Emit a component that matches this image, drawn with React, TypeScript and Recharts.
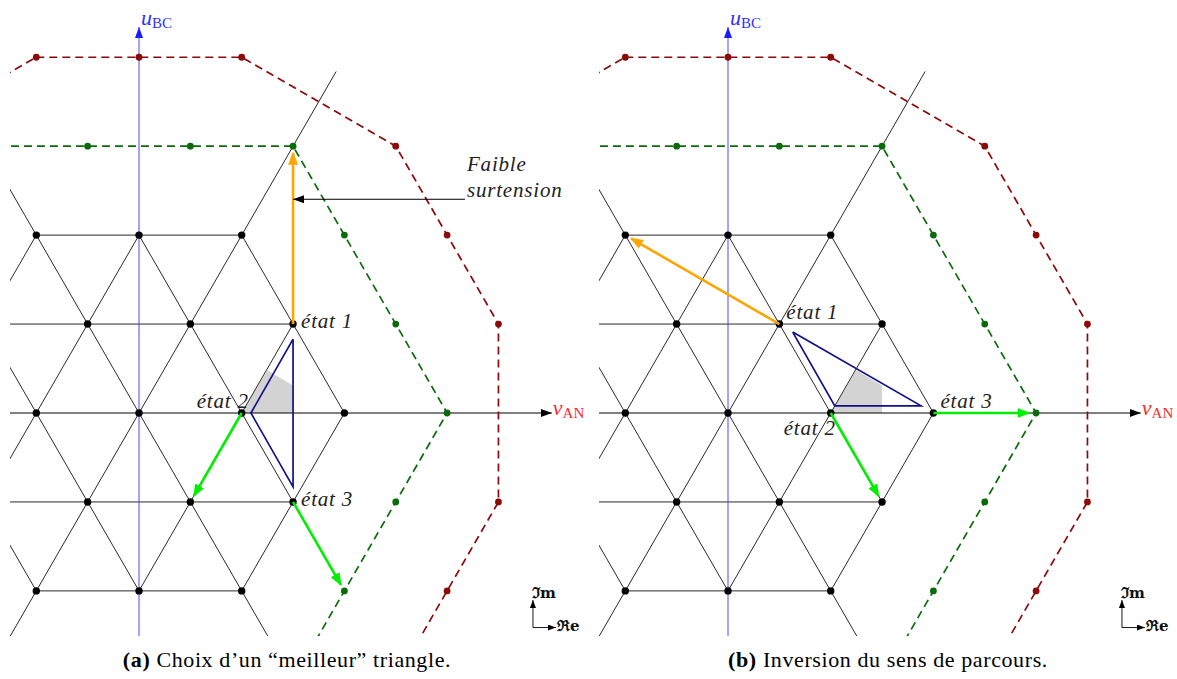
import React from "react";
import { ScatterChart, Scatter, XAxis, YAxis } from "recharts";

type Pt = { u: number; r: number };
const p = (u: number, r: number): Pt => ({ u, r });

// u: one lattice step along v_AN, r: row of the triangular grid
const innerNodes: Pt[] = [
  p(-1, 2), p(0, 2), p(1, 2),
  p(-0.5, 1), p(0.5, 1), p(1.5, 1),
  p(-1, 0), p(0, 0), p(1, 0), p(2, 0),
  p(-0.5, -1), p(0.5, -1), p(1.5, -1),
  p(-1, -2), p(0, -2), p(1, -2),
];
const ring3Nodes: Pt[] = [p(-0.5, 3), p(0.5, 3), p(1.5, 3), p(2, 2), p(2.5, 1), p(3, 0), p(2.5, -1), p(2, -2)];
const ring4Nodes: Pt[] = [p(-1, 4), p(0, 4), p(1, 4), p(2.5, 3), p(3, 2), p(3.5, 1), p(3.5, -1), p(3, -2)];

const ring3Path: Pt[] = [p(-1.5, 3), p(1.5, 3), p(3, 0), p(1.5, -3), p(-1.5, -3), p(-3, 0), p(-1.5, 3)];
const ring4Path: Pt[] = [
  p(-1, 4), p(1, 4), p(2.5, 3), p(3.5, 1), p(3.5, -1), p(2.5, -3),
  p(1, -4), p(-1, -4), p(-2.5, -3), p(-3.5, -1), p(-3.5, 1), p(-2.5, 3), p(-1, 4),
];

const gridEdges: Pt[][] = [
  [p(-1, 2), p(1, 2)], [p(-1.5, 1), p(1.5, 1)], [p(-1.5, -1), p(1.5, -1)], [p(-1, -2), p(1, -2)],
  [p(-2, 0), p(-1, 2)], [p(-1.5, -1), p(0, 2)], [p(0, -2), p(1.5, 1)], [p(1, -2), p(2, 0)],
  [p(-2, 0), p(-1, -2)], [p(-1.5, 1), p(0, -2)], [p(0, 2), p(1.5, -1)], [p(1, 2), p(2, 0)],
];
const sectorEdges: Pt[][] = [
  [p(-1.92, -3.84), p(1.92, 3.84)],
  [p(-1.92, 3.84), p(1.92, -3.84)],
];
const vanAxis: Pt[] = [p(-2, 0), p(4.02, 0)];
const ubcAxis: Pt[] = [p(0, -2.6), p(0, 4.34)];

const zone: Pt[] = [p(1, 0), p(1.25, 0.48), p(1.5, 0.31), p(1.5, 0)];
const triangleA: Pt[] = [p(1.5, 0.83), p(1.09, 0), p(1.5, -0.83), p(1.5, 0.83)];
const triangleB: Pt[] = [p(0.63, 0.91), p(1.04, 0.08), p(1.88, 0.08), p(0.63, 0.91)];

type Move = { from: Pt; to: Pt; kind: "orange" | "green" };
const movesA: Move[] = [
  { from: p(1.5, 1), to: p(1.5, 3), kind: "orange" },
  { from: p(1, 0), to: p(0.5, -1), kind: "green" },
  { from: p(1.5, -1), to: p(2, -2), kind: "green" },
];
const movesB: Move[] = [
  { from: p(0.5, 1), to: p(-1, 2), kind: "orange" },
  { from: p(1, 0), to: p(1.5, -1), kind: "green" },
  { from: p(2, 0), to: p(3, 0), kind: "green" },
];

type State = Pt & { name: string; place: string };
const statesA: State[] = [
  { ...p(1.5, 1), name: "état 1", place: "right" },
  { ...p(1, 0), name: "état 2", place: "aboveLeft" },
  { ...p(1.5, -1), name: "état 3", place: "right" },
];
const statesB: State[] = [
  { ...p(0.5, 1), name: "état 1", place: "aboveRight" },
  { ...p(1, 0), name: "état 2", place: "belowLeft" },
  { ...p(2, 0), name: "état 3", place: "aboveRight" },
];

const noteLines = ["Faible", "surtension"];
const noteArrow: Pt[] = [p(3.174, 2.403), p(1.5, 2.403)];

// scale of the drawing (pixels per lattice step / per row)
const A = 102.7;
const B = (A * Math.sqrt(3)) / 2;
const OX = 139;
const OY = 413;
const W = 588;
const H = 636;
const M = { top: 8, left: 10, right: 0, bottom: 0 };
const xDomain = [(M.left - OX) / A, (W - OX) / A];
const yDomain = [(OY - H) / B, (OY - M.top) / B];

const PLACES: Record<string, { dx: number; dy: number; anchor: "start" | "end" }> = {
  right: { dx: 8, dy: 4, anchor: "start" },
  aboveLeft: { dx: 7, dy: -5, anchor: "end" },
  aboveRight: { dx: 7, dy: -5, anchor: "start" },
  belowLeft: { dx: 5, dy: 22, anchor: "end" },
};

const SERIF = "'Liberation Serif', 'DejaVu Serif', serif";

const ITALIC: React.CSSProperties = {
  fontFamily: SERIF,
  fontStyle: "italic",
  fontSize: 21,
  letterSpacing: 0.8,
};

const COLORS = {
  grid: "#111",
  blue: "#4a4aff",
  ring3: "#0b6b0b",
  ring4: "#8b0a0a",
  navy: "#10108a",
  zone: "#d3d3d3",
  orange: "#ffa500",
  green: "#00ee00",
};

const noShape = () => <g />;

const shorten = (from: Pt, to: Pt, gap: number): Pt[] => {
  const len = Math.hypot((to.u - from.u) * A, (to.r - from.r) * B);
  const k = 1 - gap / len;
  return [from, p(from.u + (to.u - from.u) * k, from.r + (to.r - from.r) * k)];
};

const dotShape = (fill: string, r: number) => (props: any) =>
  <circle cx={props.cx} cy={props.cy} r={r} fill={fill} />;

const stateLabel = (props: any) => {
  const s = props.payload as State;
  const o = PLACES[s.place];
  return (
    <text x={props.cx + o.dx} y={props.cy + o.dy} textAnchor={o.anchor} fill="#222" style={ITALIC}>
      {s.name}
    </text>
  );
};

const noteLabel = (props: any) => (
  <text x={props.cx + 2} fill="#222" style={ITALIC}>
    <tspan x={props.cx + 2} y={props.cy - 28}>{noteLines[0]}</tspan>
    <tspan x={props.cx + 2} y={props.cy - 2}>{noteLines[1]}</tspan>
  </text>
);

const ubcLabel = (props: any) => (
  <text x={props.cx + 2} y={props.cy - 2} fill="#3030ff" style={{ fontFamily: SERIF, fontSize: 22 }}>
    <tspan fontStyle="italic">u</tspan>
    <tspan fontSize={15} dy={3}>BC</tspan>
  </text>
);

const vanLabel = (props: any) => (
  <text x={props.cx + 1} y={props.cy + 2} fill="#ff2a2a" style={{ fontFamily: SERIF, fontSize: 22 }}>
    <tspan fontStyle="italic">v</tspan>
    <tspan fontSize={15} dy={3}>AN</tspan>
  </text>
);

const compassOrigin = p(3.836, -2.412);
const compassUp: Pt[] = [compassOrigin, p(3.836, -2.102)];
const compassRight: Pt[] = [compassOrigin, p(4.06, -2.412)];

const imLabel = (props: any) => (
  <text x={props.cx - 1} y={props.cy - 2} fill="#111" style={{ fontFamily: "'DejaVu Serif', serif", fontSize: 15, fontWeight: 600 }}>
    ℑm
  </text>
);
const reLabel = (props: any) => (
  <text x={props.cx + 1} y={props.cy + 3} fill="#111" style={{ fontFamily: "'DejaVu Serif', serif", fontSize: 15, fontWeight: 600 }}>
    ℜe
  </text>
);

const ArrowDefs = () => (
  <svg width={0} height={0} style={{ position: "absolute" }}>
    <defs>
      <marker id="headOrange" markerUnits="userSpaceOnUse" markerWidth={14} markerHeight={11} refX={11.5} refY={5} orient="auto">
        <path d="M0,0 L13,5 L0,10 Z" fill={COLORS.orange} />
      </marker>
      <marker id="headGreen" markerUnits="userSpaceOnUse" markerWidth={14} markerHeight={11} refX={11.5} refY={5} orient="auto">
        <path d="M0,0 L13,5 L0,10 Z" fill={COLORS.green} />
      </marker>
      <marker id="headBlack" markerUnits="userSpaceOnUse" markerWidth={13} markerHeight={9} refX={11} refY={4} orient="auto">
        <path d="M0,0 L11,4 L0,8 Z" fill="#000" />
      </marker>
      <marker id="headBlue" markerUnits="userSpaceOnUse" markerWidth={13} markerHeight={9} refX={11} refY={4} orient="auto">
        <path d="M0,0 L11,4 L0,8 Z" fill="#1a1aff" />
      </marker>
      <marker id="headSmall" markerUnits="userSpaceOnUse" markerWidth={9} markerHeight={7} refX={8} refY={3} orient="auto">
        <path d="M0,0 L8,3 L0,6 Z" fill="#000" />
      </marker>
    </defs>
  </svg>
);

type PanelProps = { triangle: Pt[]; moves: Move[]; states: State[]; note: boolean };

const Panel = ({ triangle, moves, states, note }: PanelProps) => (
  <ScatterChart width={W} height={H} margin={M}>
    <XAxis type="number" dataKey="u" domain={xDomain} allowDataOverflow hide />
    <YAxis type="number" dataKey="r" domain={yDomain} allowDataOverflow hide />
    <Scatter data={zone} line={{ stroke: "none", fill: COLORS.zone }} shape={noShape} isAnimationActive={false} />
    {gridEdges.concat(sectorEdges).map((e, i) => (
      <Scatter key={"g" + i} data={e} line={{ stroke: COLORS.grid, strokeWidth: 0.9 }} shape={noShape} isAnimationActive={false} />
    ))}
    <Scatter data={ubcAxis} line={{ stroke: COLORS.blue, strokeWidth: 1, markerEnd: "url(#headBlue)" }} shape={noShape} isAnimationActive={false} />
    <Scatter data={vanAxis} line={{ stroke: "#000", strokeWidth: 1, markerEnd: "url(#headBlack)" }} shape={noShape} isAnimationActive={false} />
    <Scatter data={ring3Path} line={{ stroke: COLORS.ring3, strokeWidth: 1.7, strokeDasharray: "8 5" }} shape={noShape} isAnimationActive={false} />
    <Scatter data={ring4Path} line={{ stroke: COLORS.ring4, strokeWidth: 1.7, strokeDasharray: "8 5" }} shape={noShape} isAnimationActive={false} />
    <Scatter data={triangle} line={{ stroke: COLORS.navy, strokeWidth: 1.7 }} shape={noShape} isAnimationActive={false} />
    <Scatter data={innerNodes} shape={dotShape("#000", 3.7)} isAnimationActive={false} />
    <Scatter data={ring3Nodes} shape={dotShape(COLORS.ring3, 3.4)} isAnimationActive={false} />
    <Scatter data={ring4Nodes} shape={dotShape(COLORS.ring4, 3.4)} isAnimationActive={false} />
    {moves.map((m, i) => (
      <Scatter
        key={"m" + i}
        data={shorten(m.from, m.to, 7)}
        line={{
          stroke: m.kind === "orange" ? COLORS.orange : COLORS.green,
          strokeWidth: 2.6,
          markerEnd: m.kind === "orange" ? "url(#headOrange)" : "url(#headGreen)",
        }}
        shape={noShape}
        isAnimationActive={false}
      />
    ))}
    {note && (
      <Scatter data={noteArrow} line={{ stroke: "#000", strokeWidth: 1, markerEnd: "url(#headBlack)" }} shape={noShape} isAnimationActive={false} />
    )}
    {note && <Scatter data={[noteArrow[0]]} shape={noteLabel} isAnimationActive={false} />}
    <Scatter data={states} shape={stateLabel} isAnimationActive={false} />
    <Scatter data={[ubcAxis[1]]} shape={ubcLabel} isAnimationActive={false} />
    <Scatter data={[vanAxis[1]]} shape={vanLabel} isAnimationActive={false} />
    <Scatter data={compassUp} line={{ stroke: "#000", strokeWidth: 0.9, markerEnd: "url(#headSmall)" }} shape={noShape} isAnimationActive={false} />
    <Scatter data={compassRight} line={{ stroke: "#000", strokeWidth: 0.9, markerEnd: "url(#headSmall)" }} shape={noShape} isAnimationActive={false} />
    <Scatter data={[compassUp[1]]} shape={imLabel} isAnimationActive={false} />
    <Scatter data={[compassRight[1]]} shape={reLabel} isAnimationActive={false} />
  </ScatterChart>
);

const captionStyle: React.CSSProperties = {
  position: "absolute",
  top: 648,
  fontFamily: SERIF,
  fontSize: 22,
  letterSpacing: 0.6,
  lineHeight: "24px",
  whiteSpace: "nowrap",
  transform: "translateX(-50%)",
  color: "#000",
};

export default function App() {
  return (
    <div style={{ position: "absolute", left: 0, top: 0, width: 1177, height: 679, background: "#fff", overflow: "hidden" }}>
      <ArrowDefs />
      <div style={{ position: "absolute", left: 0, top: 0 }}>
        <Panel triangle={triangleA} moves={movesA} states={statesA} note />
      </div>
      <div style={{ position: "absolute", left: 589, top: 0 }}>
        <Panel triangle={triangleB} moves={movesB} states={statesB} note={false} />
      </div>
      <div style={{ ...captionStyle, left: 287 }}>
        <b>(a)</b> Choix d’un “meilleur” triangle.
      </div>
      <div style={{ ...captionStyle, left: 888 }}>
        <b>(b)</b> Inversion du sens de parcours.
      </div>
    </div>
  );
}
